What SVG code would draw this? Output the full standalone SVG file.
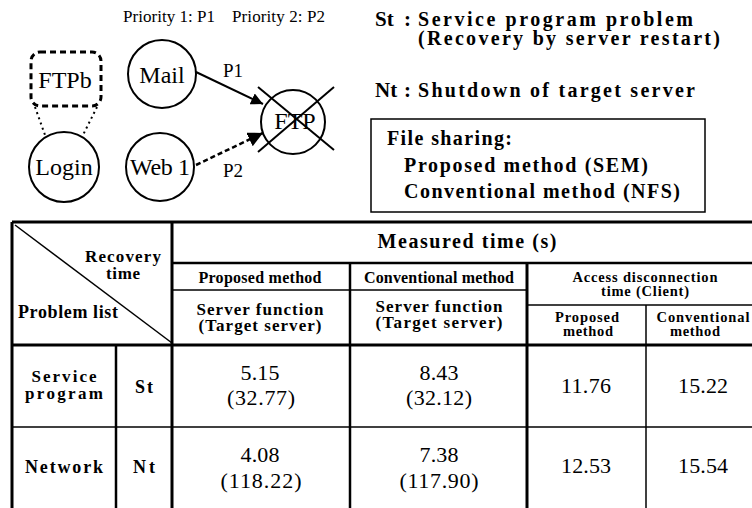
<svg xmlns="http://www.w3.org/2000/svg" width="752" height="508" viewBox="0 0 752 508" font-family="'Liberation Serif', 'Times New Roman', serif">
  <style>
    text { font-family: "Liberation Serif", "Times New Roman", serif; fill: #000; }
    .b { font-weight: bold; }
    .node { fill: #fff; stroke: #000; stroke-width: 2; }
    .lbl { font-size: 24px; text-anchor: middle; }
    .thick { stroke: #000; stroke-width: 3; fill: none; }
    .med { stroke: #000; stroke-width: 2.5; fill: none; }
    .thin { stroke: #000; stroke-width: 1.5; fill: none; }
    .num { font-size: 22px; text-anchor: middle; }
    .hd { font-size: 18px; text-anchor: middle; }
    .tw { font-size: 17px; text-anchor: middle; }
    .sh { font-size: 16px; text-anchor: middle; }
    .xs { font-size: 14.5px; text-anchor: middle; }
  </style>
  <defs>
    <marker id="arrow" viewBox="0 0 10 10" refX="10" refY="5" markerWidth="6" markerHeight="6" markerUnits="strokeWidth" orient="auto">
      <path d="M0,0 L10,5 L0,10 z" fill="#000"/>
    </marker>
  </defs>
  <rect width="752" height="508" fill="#fff"/>

  <!-- priority caption -->
  <text x="123" y="22" font-size="17" textLength="92">Priority 1: P1</text>
  <text x="232" y="22" font-size="17" textLength="93">Priority 2: P2</text>

  <!-- connectors -->
  <g id="connectors">
    <line x1="35" y1="107" x2="45" y2="135" stroke="#000" stroke-width="2" stroke-dasharray="2 3.5"/>
    <line x1="97" y1="107" x2="83" y2="135" stroke="#000" stroke-width="2" stroke-dasharray="2 3.5"/>
    <line x1="196" y1="72" x2="263" y2="104" stroke="#000" stroke-width="2" marker-end="url(#arrow)"/>
    <line x1="196" y1="165" x2="263" y2="133" stroke="#000" stroke-width="2.5" stroke-dasharray="5 3" marker-end="url(#arrow)"/>
    <text x="223" y="77" font-size="19">P1</text>
    <text x="223" y="177" font-size="19">P2</text>
  </g>

  <!-- nodes -->
  <g id="node-ftpb">
    <rect x="31" y="52" width="70" height="54" rx="9" fill="#fff" stroke="#000" stroke-width="3" stroke-dasharray="6 4"/>
    <text class="lbl" x="65" y="88" font-size="25">FTPb</text>
  </g>
  <g id="node-mail">
    <circle class="node" cx="162" cy="74" r="34"/>
    <text class="lbl" x="162" y="83" font-size="25">Mail</text>
  </g>
  <g id="node-login">
    <circle class="node" cx="64" cy="167" r="35"/>
    <text class="lbl" x="64" y="175">Login</text>
  </g>
  <g id="node-web1">
    <circle class="node" cx="160" cy="167" r="34"/>
    <text class="lbl" x="160" y="175" textLength="60">Web 1</text>
  </g>
  <g id="node-ftp">
    <circle class="node" cx="293" cy="122" r="32"/>
    <text class="lbl" x="295" y="129" font-size="25">FTP</text>
    <line x1="258" y1="87" x2="334" y2="150" stroke="#000" stroke-width="2"/>
    <line x1="334" y1="87" x2="258" y2="152" stroke="#000" stroke-width="2"/>
  </g>

  <!-- legend -->
  <g id="legend" class="b" font-size="20">
    <text x="375" y="26" font-size="21">St<tspan x="404">:</tspan></text>
    <text x="418" y="26" textLength="275">Service program problem</text>
    <text x="418" y="45" textLength="302">(Recovery by server restart)</text>
    <text x="375" y="97" font-size="21">Nt<tspan x="404">:</tspan></text>
    <text x="418" y="97" textLength="277">Shutdown of target server</text>
  </g>
  <g id="file-sharing" class="b" font-size="20">
    <rect x="371" y="119" width="334" height="93" fill="none" stroke="#000" stroke-width="1.5"/>
    <text x="387" y="145" textLength="125">File sharing:</text>
    <text x="404" y="172" textLength="244">Proposed method (SEM)</text>
    <text x="404" y="198" textLength="276">Conventional method (NFS)</text>
  </g>

  <!-- result table -->
  <g id="table">
    <!-- thin rules -->
    <line class="thin" x1="172" y1="290" x2="527" y2="290"/>
    <line class="thin" x1="527" y1="305" x2="752" y2="305"/>
    <line class="thin" x1="646" y1="305" x2="646" y2="508"/>
    <line class="thin" x1="12" y1="427" x2="752" y2="427"/>
    <line class="thin" x1="15" y1="225" x2="172" y2="343"/>
    <!-- heavy rules -->
    <line class="med" x1="172" y1="263" x2="752" y2="263"/>
    <line class="med" x1="350" y1="263" x2="350" y2="508"/>
    <line class="thick" x1="527" y1="263" x2="527" y2="508"/>
    <line class="med" x1="116" y1="345" x2="116" y2="508"/>
    <line class="thick" x1="172" y1="222" x2="172" y2="508"/>
    <line class="thick" x1="12" y1="345" x2="752" y2="345"/>
    <line class="thick" x1="12" y1="222" x2="752" y2="222"/>
    <line class="thick" x1="12" y1="222" x2="12" y2="508"/>

    <g class="b">
      <text x="123" y="262" class="tw" textLength="76">Recovery</text>
      <text x="123" y="279" class="tw" textLength="34">time</text>
      <text x="18" y="318" font-size="18" textLength="100">Problem list</text>
      <text x="467" y="248" font-size="20" text-anchor="middle" textLength="179">Measured time (s)</text>
      <text x="260" y="283" class="sh" textLength="123">Proposed method</text>
      <text x="439" y="283" class="sh" textLength="150">Conventional method</text>
      <text x="260" y="315" class="tw" textLength="127">Server function</text>
      <text x="260" y="331" class="tw" textLength="123">(Target server)</text>
      <text x="439" y="312" class="tw" textLength="127">Server function</text>
      <text x="439" y="328" class="tw" textLength="127">(Target server)</text>
      <text x="645" y="282" class="xs" textLength="145">Access disconnection</text>
      <text x="645" y="296" class="xs" textLength="88">time (Client)</text>
      <text x="587" y="322" class="xs" textLength="64">Proposed</text>
      <text x="588" y="336" class="xs" textLength="50">method</text>
      <text x="703" y="322" class="xs" textLength="93">Conventional</text>
      <text x="695" y="336" class="xs" textLength="50">method</text>
      <text x="64" y="382" class="tw" textLength="65">Service</text>
      <text x="64" y="399" class="tw" textLength="78">program</text>
      <text x="144" y="393" class="hd" font-size="19" textLength="18">St</text>
      <text x="64" y="473" class="hd" font-size="19" textLength="78">Network</text>
      <text x="144" y="473" class="hd" font-size="19" textLength="22">Nt</text>
    </g>

    <g>
      <text x="260" y="380" class="num" textLength="39">5.15</text>
      <text x="261" y="405" class="num" textLength="68">(32.77)</text>
      <text x="439" y="380" class="num" textLength="39">8.43</text>
      <text x="439" y="405" class="num" textLength="66">(32.12)</text>
      <text x="586" y="393" class="num" textLength="50">11.76</text>
      <text x="703" y="393" class="num" textLength="50">15.22</text>
      <text x="260" y="462" class="num" textLength="39">4.08</text>
      <text x="261" y="488" class="num" textLength="81">(118.22)</text>
      <text x="439" y="462" class="num" textLength="39">7.38</text>
      <text x="439" y="488" class="num" textLength="79">(117.90)</text>
      <text x="586" y="473" class="num" textLength="50">12.53</text>
      <text x="703" y="473" class="num" textLength="50">15.54</text>
    </g>
  </g>
</svg>
